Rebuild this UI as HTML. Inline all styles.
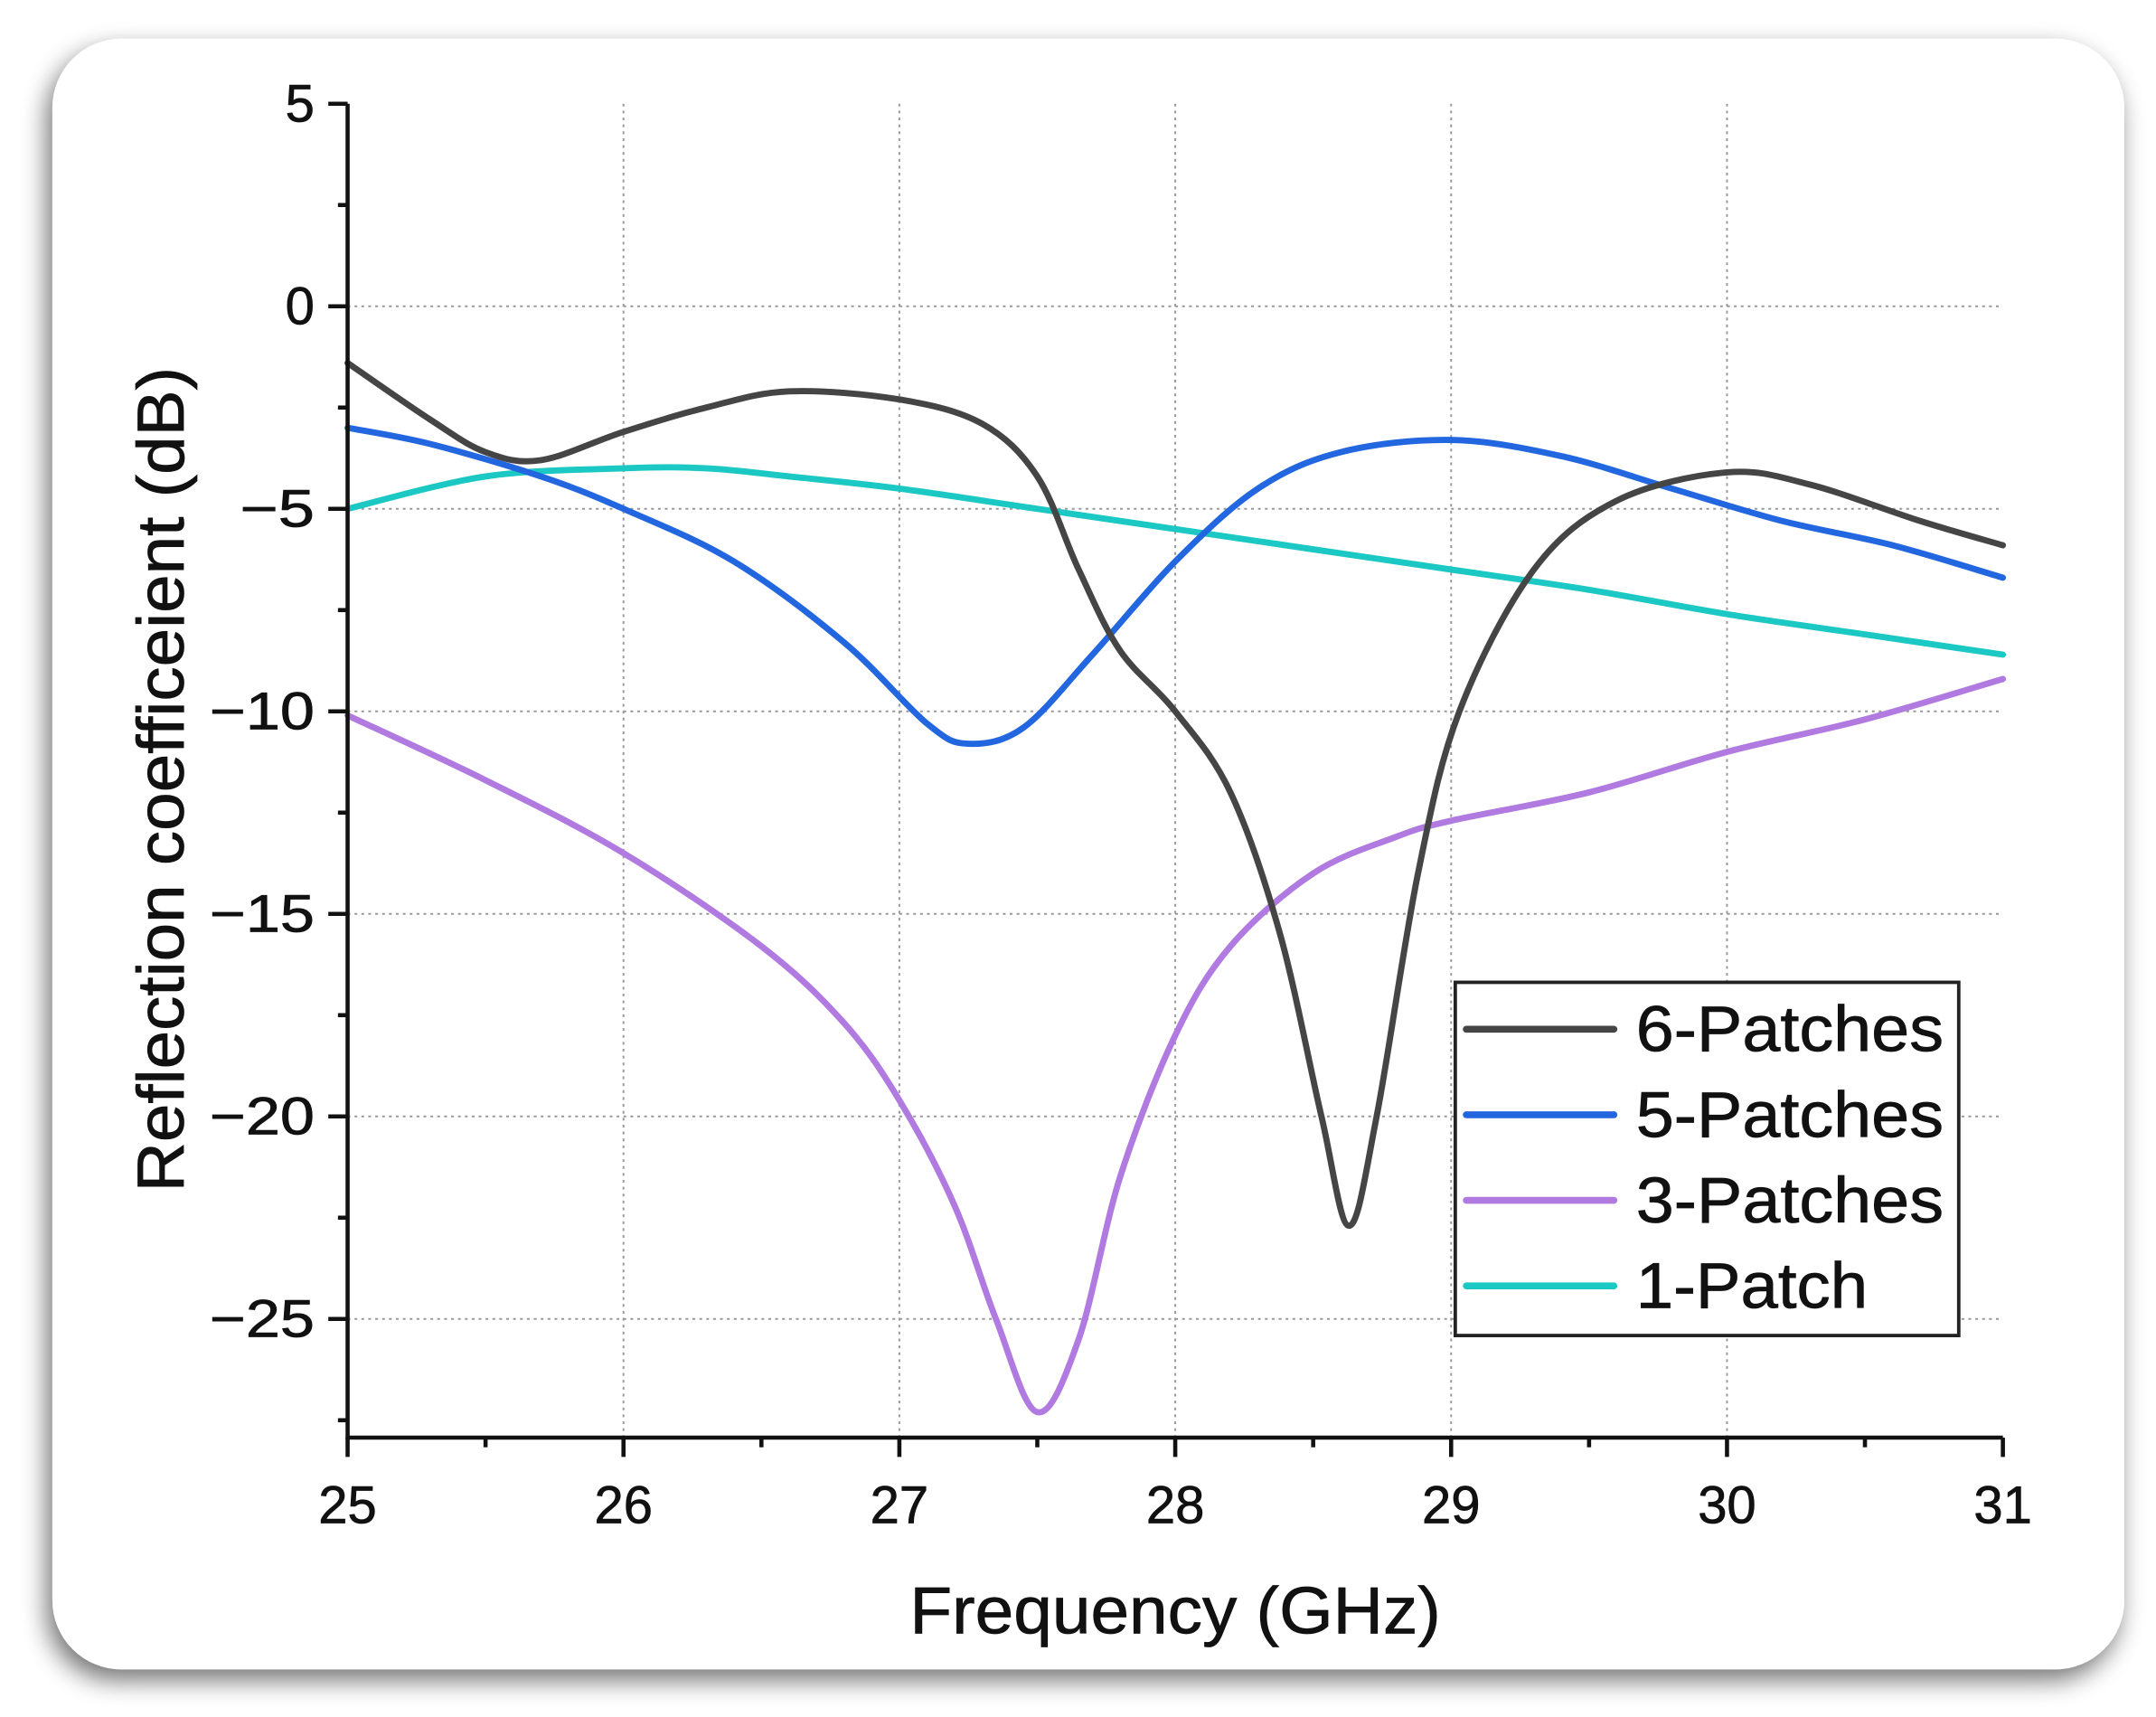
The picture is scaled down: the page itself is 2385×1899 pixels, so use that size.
<!DOCTYPE html>
<html><head><meta charset="utf-8"><style>
html,body{margin:0;padding:0;background:#fff;}
svg{display:block;}
text{font-family:"Liberation Sans",Arial,sans-serif;fill:#111;stroke:#111;stroke-width:0.5;}
</style></head><body>
<svg id="s" width="2385" height="1899" viewBox="0 0 1563 1244.5" xmlns="http://www.w3.org/2000/svg">
<defs>
<filter id="sh" x="-10%" y="-10%" width="120%" height="120%">
<feGaussianBlur in="SourceAlpha" stdDeviation="9"/>
<feOffset dx="-4" dy="8"/>
<feComponentTransfer><feFuncA type="linear" slope="0.55"/></feComponentTransfer>
<feMerge><feMergeNode/><feMergeNode in="SourceGraphic"/></feMerge>
</filter>
</defs>
<rect x="38" y="28" width="1502" height="1182" rx="50" fill="#fff" filter="url(#sh)"/>
<g id="grid" stroke="#999" stroke-width="1.3" stroke-dasharray="2,3"></g>
<g id="curves" fill="none" stroke-width="4.5" stroke-linejoin="round" stroke-linecap="round"></g>
<g id="axes" stroke="#111" stroke-width="3" fill="none"></g>
<g id="lab"></g>
<rect x="1055" y="712" width="365" height="256" fill="#fff" stroke="#222" stroke-width="2.5"/>
<g stroke-width="5" stroke-linecap="round">
<line x1="1063" y1="746" x2="1170" y2="746" stroke="#454545"/>
<line x1="1063" y1="808" x2="1170" y2="808" stroke="#2266e0"/>
<line x1="1063" y1="870" x2="1170" y2="870" stroke="#b07ae0"/>
<line x1="1063" y1="932" x2="1170" y2="932" stroke="#1cc8c4"/>
</g>
<g font-size="47">
<text x="1186" y="762" textLength="223" lengthAdjust="spacingAndGlyphs">6-Patches</text>
<text x="1186" y="824" textLength="223" lengthAdjust="spacingAndGlyphs">5-Patches</text>
<text x="1186" y="886" textLength="223" lengthAdjust="spacingAndGlyphs">3-Patches</text>
<text x="1186" y="948" textLength="168" lengthAdjust="spacingAndGlyphs">1-Patch</text>
</g>
<text x="852" y="1184" font-size="48" text-anchor="middle" textLength="385" lengthAdjust="spacingAndGlyphs">Frequency (GHz)</text>
<text transform="translate(133,565) rotate(-90)" font-size="48" text-anchor="middle" textLength="598" lengthAdjust="spacingAndGlyphs">Reflection coefficeient (dB)</text>
</svg>
<script>
var NS="http://www.w3.org/2000/svg";
function X(f){return 252+200*(f-25);}
function Y(d){return 222-29.36*d;}
function el(p,t,a,txt){var e=document.createElementNS(NS,t);for(var k in a)e.setAttribute(k,a[k]);if(txt!==undefined)e.textContent=txt;document.getElementById(p).appendChild(e);}
for(var f=26;f<=30;f++)el("grid","line",{x1:X(f),y1:Y(5),x2:X(f),y2:1042});
for(var d=0;d>=-25;d-=5)el("grid","line",{x1:252,y1:Y(d),x2:1452,y2:Y(d)});
el("axes","path",{d:"M252,"+Y(5)+" V1042 H1452"});
for(var d=5;d>=-27.5;d-=2.5){var maj=(d%5===0);el("axes","line",{x1:252,y1:Y(d),x2:maj?238:245,y2:Y(d)});}
for(var f=25;f<=31.01;f+=0.5){var maj=(Math.abs(f-Math.round(f))<0.01);el("axes","line",{x1:X(f),y1:1042,x2:X(f),y2:maj?1056:1049});}
for(var d=5;d>=-25;d-=5){var t=d<0?"\u2212"+(-d):""+d;var a={x:228,y:Y(d)+13,"font-size":38,"text-anchor":"end"};if(d<=-10){a.textLength=76;a.lengthAdjust="spacingAndGlyphs";}else if(d<0){a.textLength=54;a.lengthAdjust="spacingAndGlyphs";}el("lab","text",a,t);}
for(var f=25;f<=31;f++)el("lab","text",{x:X(f),y:1104,"font-size":38,"text-anchor":"middle"},""+f);
function path(pts){var p=pts.map(function(a){return [X(a[0]),Y(a[1])];});var s="M"+p[0][0]+","+p[0][1];
for(var i=0;i<p.length-1;i++){var p0=p[i-1]||p[i],p1=p[i],p2=p[i+1],p3=p[i+2]||p2;
s+=" C"+(p1[0]+(p2[0]-p0[0])/6)+","+(p1[1]+(p2[1]-p0[1])/6)+" "+(p2[0]-(p3[0]-p1[0])/6)+","+(p2[1]-(p3[1]-p1[1])/6)+" "+p2[0]+","+p2[1];}return s;}
var S=[
["#1cc8c4",[[25,-5],[25.5,-4.2],[26,-4],[26.3,-4],[26.6,-4.2],[27,-4.5],[27.5,-5],[28,-5.5],[28.5,-6],[29,-6.5],[29.5,-7],[30,-7.6],[30.5,-8.1],[31,-8.6]]],
["#b07ae0",[[25,-10.1],[25.5,-11.7],[26,-13.5],[26.5,-15.8],[26.8,-17.7],[27,-19.6],[27.2,-22.2],[27.35,-25],[27.5,-27.3],[27.65,-25.5],[27.8,-21.5],[28,-18],[28.2,-15.8],[28.5,-14],[28.8,-13.1],[29,-12.7],[29.5,-12],[30,-11],[30.5,-10.2],[31,-9.2]]],
["#2266e0",[[25,-3],[25.3,-3.4],[25.7,-4.2],[26,-5],[26.4,-6.3],[26.8,-8.3],[27.1,-10.3],[27.25,-10.8],[27.45,-10.4],[27.7,-8.6],[28,-6.3],[28.3,-4.5],[28.6,-3.6],[29,-3.3],[29.4,-3.7],[29.8,-4.5],[30.2,-5.3],[30.6,-5.9],[31,-6.7]]],
["#454545",[[25,-1.4],[25.3,-2.8],[25.5,-3.6],[25.7,-3.8],[26,-3.1],[26.3,-2.5],[26.6,-2.1],[27,-2.3],[27.3,-2.9],[27.5,-4.2],[27.65,-6.5],[27.8,-8.5],[28,-10],[28.2,-12],[28.38,-15.5],[28.53,-20],[28.63,-22.7],[28.73,-20],[28.88,-14],[29.03,-10],[29.3,-6.5],[29.6,-4.8],[30,-4.1],[30.3,-4.4],[30.7,-5.3],[31,-5.9]]]
];
S.forEach(function(s){el("curves","path",{d:path(s[1]),stroke:s[0]});});
</script>
</body></html>
